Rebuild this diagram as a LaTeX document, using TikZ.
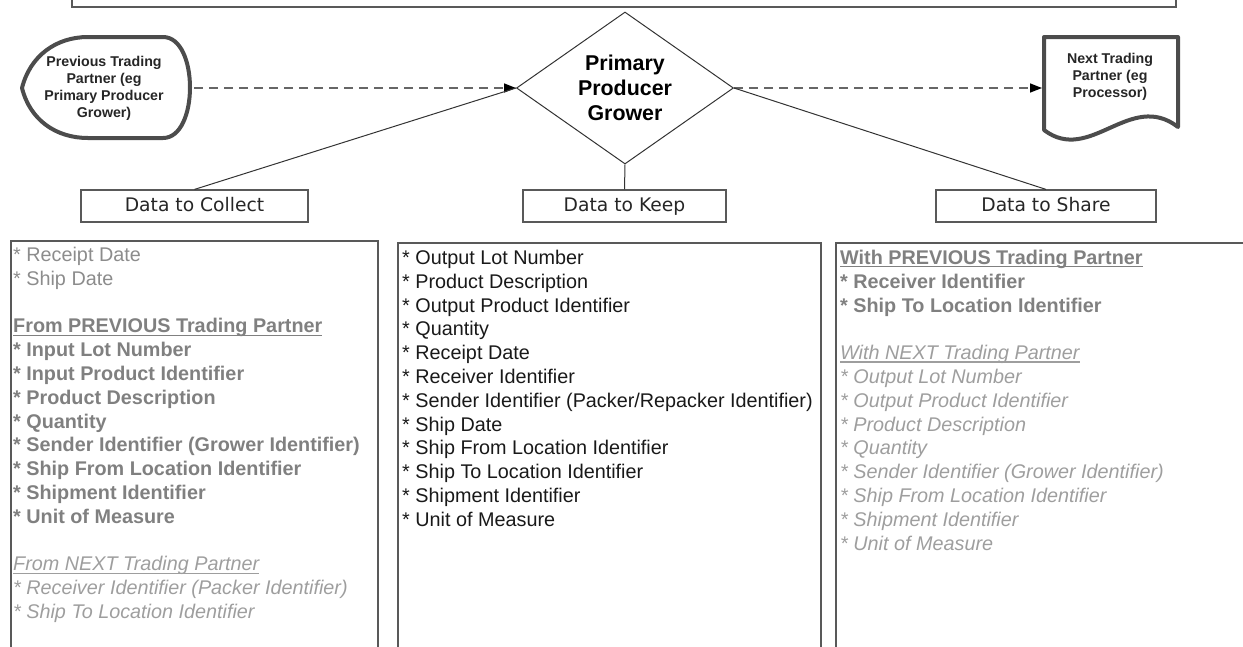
\documentclass[tikz,border=0pt]{standalone}
\usepackage{fontspec}
\setmainfont{Liberation Sans}
\newfontfamily\labelfont{DejaVu Sans}
\usetikzlibrary{positioning,shapes.geometric,arrows.meta}
\definecolor{shapegray}{gray}{0.3}
\definecolor{dashgray}{gray}{0.4}
\definecolor{framegray}{gray}{0.35}
\definecolor{softgray}{gray}{0.55}
\definecolor{boldgray}{gray}{0.5}
\definecolor{palegray}{gray}{0.62}
\newcommand{\boldline}[1]{\textcolor{boldgray}{\textbf{#1}}}
\newcommand{\paleline}[1]{\textcolor{palegray}{\textit{#1}}}
\newcommand{\under}[1]{\setbox0\hbox{#1}\rlap{\vrule height -1.6pt depth 2.8pt width \wd0}\box0}

\begin{document}
\begin{tikzpicture}[x=1pt,y=-1pt,
    partner/.style={text=black!85, font=\fontsize{14.2}{17}\selectfont\bfseries, align=center},
    outline/.style={draw=shapegray, line width=4pt, line join=round},
    flow/.style={draw=dashgray, line width=1.5pt, dash pattern=on 9pt off 6pt,
        -{Triangle[length=12pt,width=9pt,color=black,fill=black]}},
    link/.style={draw=black!80, line width=1pt},
    tag/.style={draw=framegray, line width=1.2pt, minimum height=32pt, text=black!85,
        text height=14pt, text depth=4pt, font=\labelfont\fontsize{18.7}{22}\selectfont},
    listbox/.style={draw=framegray, line width=1.5pt, anchor=north west, inner sep=0pt},
    listtext/.style={anchor=north west, align=left, inner sep=0pt, font=\fontsize{19.8}{23.8}\selectfont}
    ]

    \useasboundingbox (0,0) rectangle (1243,646);
    \clip (0,0) rectangle (1243,646);

    % heading box, cut by the top edge
    \draw[framegray, line width=1.2pt] (72,-30) rectangle (1176,7);

    \node[diamond, aspect=1.43, draw=black!80, line width=1pt, minimum width=217pt, minimum height=152pt,
        inner sep=0pt, font=\fontsize{21.4}{25}\selectfont\bfseries, align=center] (grower) at (625,88)
        {Primary\\Producer\\Grower};

    % previous partner
    \draw[outline] (22,88) .. controls (30,56) and (56,37) .. (88,37) -- (163,37)
        .. controls (199,37) and (199,138) .. (163,138) -- (88,138)
        .. controls (56,138) and (30,120) .. cycle;
    \node[partner] (prev) at (104,88) {Previous Trading\\Partner (eg\\Primary Producer\\Grower)};
    \coordinate (prev-out) at (194,88);

    % next partner
    \draw[outline] (1044,130) -- (1044,37) -- (1178,37) -- (1178,127)
        .. controls (1130,90) and (1090,165) .. cycle;
    \node[partner] (next) at (1110,77) {Next Trading\\Partner (eg\\Processor)};
    \coordinate (next-in) at (1042,88);

    \draw[flow] (prev-out) -- (grower.west);
    \draw[flow] (grower.east) -- (next-in);

    \node[tag, minimum width=227pt] (collect) at (194.5,206) {Data to Collect};
    \node[tag, minimum width=203pt] (keep) at (624.5,206) {Data to Keep};
    \node[tag, minimum width=220pt] (share) at (1046,206) {Data to Share};

    \draw[link] (grower.west) -- (collect.north);
    \draw[link] (grower.south) -- (keep.north);
    \draw[link] (grower.east) -- (share.north);

    % lists
    \node[listbox, minimum width=367pt, minimum height=460pt] (collectlist) at (10,240) {};
    \node[listtext, text=softgray] (collecttext) at ([shift={(3,7)}]collectlist.north west) {
        * Receipt Date\\
        * Ship Date\\
        ~\\
        \boldline{\under{From PREVIOUS Trading Partner}}\\
        \boldline{* Input Lot Number}\\
        \boldline{* Input Product Identifier}\\
        \boldline{* Product Description}\\
        \boldline{* Quantity}\\
        \boldline{* Sender Identifier (Grower Identifier)}\\
        \boldline{* Ship From Location Identifier}\\
        \boldline{* Shipment Identifier}\\
        \boldline{* Unit of Measure}\\
        ~\\
        \paleline{\under{From NEXT Trading Partner}}\\
        \paleline{* Receiver Identifier (Packer Identifier)}\\
        \paleline{* Ship To Location Identifier}};

    \node[listbox, minimum width=423pt, minimum height=460pt] (keeplist) at (397,242) {};
    \node[listtext, text=black!90] (keeptext) at ([shift={(5,8)}]keeplist.north west) {
        * Output Lot Number\\
        * Product Description\\
        * Output Product Identifier\\
        * Quantity\\
        * Receipt Date\\
        * Receiver Identifier\\
        * Sender Identifier (Packer/Repacker Identifier)\\
        * Ship Date\\
        * Ship From Location Identifier\\
        * Ship To Location Identifier\\
        * Shipment Identifier\\
        * Unit of Measure};

    \node[listbox, minimum width=460pt, minimum height=460pt] (sharelist) at (835,242) {};
    \node[listtext] (sharetext) at ([shift={(5,8)}]sharelist.north west) {
        \boldline{\under{With PREVIOUS Trading Partner}}\\
        \boldline{* Receiver Identifier}\\
        \boldline{* Ship To Location Identifier}\\
        ~\\
        \paleline{\under{With NEXT Trading Partner}}\\
        \paleline{* Output Lot Number}\\
        \paleline{* Output Product Identifier}\\
        \paleline{* Product Description}\\
        \paleline{* Quantity}\\
        \paleline{* Sender Identifier (Grower Identifier)}\\
        \paleline{* Ship From Location Identifier}\\
        \paleline{* Shipment Identifier}\\
        \paleline{* Unit of Measure}};

\end{tikzpicture}
\end{document}
